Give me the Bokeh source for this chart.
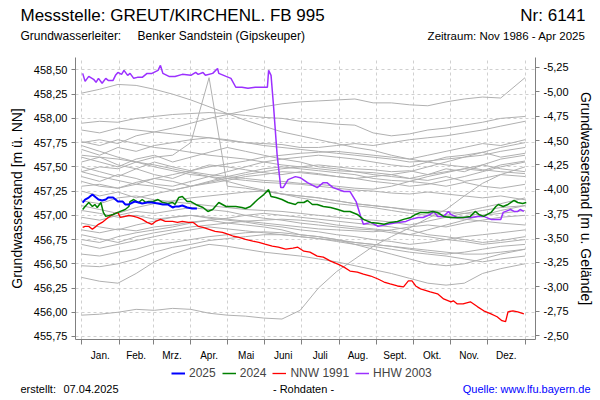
from bokeh.plotting import figure
from bokeh.models import (Range1d, LinearAxis, FixedTicker, CustomJSTickFormatter,
                          Label, Legend, LegendItem)
from bokeh.embed import file_html
from bokeh.resources import INLINE

FONT = "Liberation Sans"

# ---------------- data ----------------
month_labels = ["Jan.", "Feb.", "Mrz.", "Apr.", "Mai", "Juni", "Juli", "Aug.",
                "Sept.", "Okt.", "Nov.", "Dez."]
month_starts = [0, 31, 59, 90, 120, 151, 181, 212, 243, 273, 304, 334, 365]
left_ticks = [455.75, 456.0, 456.25, 456.5, 456.75, 457.0, 457.25, 457.5,
              457.75, 458.0, 458.25, 458.5]
right_ticks = [-5.25, -5.0, -4.75, -4.5, -4.25, -4.0, -3.75, -3.5, -3.25,
               -3.0, -2.75, -2.5]

# 2025
blue_days = [1, 3, 6, 9, 12, 14, 17, 20, 22, 26, 30, 34, 36, 39, 42, 44, 47, 50,
             54, 58, 63, 67, 71, 75, 77, 80, 83, 87, 91, 95]
blue_vals = [457.132, 457.163, 457.183, 457.214, 457.183, 457.163, 457.153, 457.163,
             457.183, 457.183, 457.142, 457.142, 457.112, 457.112, 457.132, 457.142,
             457.132, 457.122, 457.132, 457.132, 457.122, 457.112, 457.112, 457.081,
             457.091, 457.091, 457.101, 457.081, 457.071, 457.071]

# 2024
green_days = [1, 3, 6, 9, 11, 13, 16, 18, 20, 26, 30, 36, 39, 40, 43, 47, 50, 53, 55,
              59, 63, 67, 71, 75, 77, 80, 83, 87, 90, 94, 100, 104, 108, 113, 119, 123,
              127, 132, 135, 139, 145, 150, 154, 156, 160, 165, 170, 176, 178, 183, 186,
              190, 194, 199, 205, 211, 216, 221, 227, 232, 238, 244, 249, 254, 260, 265,
              271, 275, 279, 285, 289, 293, 298, 304, 309, 314, 320, 324, 327, 331, 337,
              341, 343, 347, 351, 356, 359, 363, 366]
green_vals = [457.060, 457.091, 457.132, 457.091, 457.112, 457.081, 457.132, 457.030,
              456.989, 457.009, 457.030, 457.060, 457.091, 457.142, 457.163, 457.132,
              457.163, 457.132, 457.142, 457.142, 457.163, 457.132, 457.122, 457.132,
              457.112, 457.183, 457.194, 457.142, 457.142, 457.112, 457.081, 457.040,
              457.060, 457.132, 457.091, 457.091, 457.091, 457.081, 457.071, 457.091,
              457.163, 457.214, 457.265, 457.194, 457.183, 457.163, 457.132, 457.112,
              457.132, 457.132, 457.153, 457.112, 457.112, 457.091, 457.081, 457.060,
              457.040, 457.040, 457.009, 456.958, 456.927, 456.917, 456.907, 456.927,
              456.937, 456.958, 456.978, 457.009, 457.030, 457.030, 457.040, 457.030,
              456.989, 456.978, 456.978, 456.978, 456.989, 457.040, 457.009, 456.989,
              457.030, 457.091, 457.112, 457.091, 457.112, 457.153, 457.132, 457.122,
              457.132]

# NNW 1991
red_days = [1, 3, 6, 9, 12, 14, 17, 20, 22, 26, 30, 32, 36, 39, 43, 46, 50, 54, 58,
            61, 65, 69, 75, 79, 83, 88, 92, 96, 100, 105, 110, 116, 121, 125, 129, 135,
            141, 146, 151, 157, 162, 168, 174, 178, 183, 188, 194, 199, 205, 211, 216,
            221, 227, 232, 238, 244, 249, 254, 260, 265, 269, 272, 275, 279, 287, 293,
            298, 304, 306, 309, 314, 320, 326, 331, 337, 342, 346, 349, 351, 355, 359,
            364]
red_vals = [456.876, 456.886, 456.886, 456.856, 456.886, 456.907, 456.927, 456.958,
            456.978, 457.009, 457.030, 456.978, 456.989, 456.999, 456.989, 456.978,
            456.958, 456.927, 456.907, 456.937, 456.958, 456.937, 456.937, 456.927,
            456.937, 456.927, 456.927, 456.886, 456.876, 456.856, 456.835, 456.825,
            456.804, 456.784, 456.774, 456.753, 456.733, 456.722, 456.702, 456.682,
            456.671, 456.651, 456.661, 456.671, 456.630, 456.620, 456.579, 456.569,
            456.528, 456.497, 456.466, 456.425, 456.415, 456.394, 456.374, 456.343,
            456.312, 456.292, 456.271, 456.261, 456.323, 456.323, 456.271, 456.241,
            456.210, 456.190, 456.138, 456.108, 456.118, 456.087, 456.087, 456.108,
            456.056, 456.015, 455.984, 455.954, 455.913, 455.903, 456.005, 456.015,
            456.005, 455.984]

# HHW 2003
purple_days = [1, 3, 6, 10, 12, 14, 17, 20, 22, 26, 28, 30, 33, 35, 38, 40, 43, 46, 50,
               54, 58, 63, 65, 67, 72, 77, 83, 90, 94, 96, 100, 102, 108, 112, 113, 119,
               123, 127, 132, 137, 143, 148, 153, 154, 156, 158, 161, 164, 166, 170, 176,
               180, 186, 194, 199, 202, 207, 216, 221, 226, 230, 232, 238, 244, 252, 260,
               267, 271, 277, 281, 287, 290, 293, 298, 302, 304, 309, 314, 320, 326, 331,
               337, 342, 345, 347, 353, 356, 359, 361, 364]
purple_vals = [458.464, 458.382, 458.433, 458.403, 458.372, 458.413, 458.362, 458.413,
               458.392, 458.392, 458.444, 458.474, 458.454, 458.495, 458.444, 458.464,
               458.413, 458.423, 458.423, 458.464, 458.464, 458.495, 458.546, 458.464,
               458.433, 458.433, 458.454, 458.444, 458.474, 458.454, 458.474, 458.444,
               458.464, 458.515, 458.464, 458.433, 458.413, 458.321, 458.321, 458.310,
               458.321, 458.321, 458.321, 458.495, 458.444, 458.136, 457.624, 457.286,
               457.286, 457.368, 457.399, 457.388, 457.337, 457.286, 457.337, 457.337,
               457.286, 457.245, 457.245, 457.142, 456.978, 456.907, 456.927, 456.886,
               456.907, 456.927, 456.937, 456.958, 456.978, 456.978, 457.009, 457.040,
               456.989, 456.989, 457.040, 457.009, 456.978, 456.978, 456.978, 456.989,
               456.989, 456.958, 456.958, 456.958, 457.030, 457.060, 457.040, 457.040,
               457.060, 457.040]

# other years (grey), sampled every half month
gray_days = [0, 15, 30, 45, 60, 75, 90, 105, 120, 135, 150, 165, 180, 195, 210, 225,
             240, 255, 270, 285, 300, 315, 330, 345, 365]
g01 = [458.26, 458.30, 458.35, 458.34, 458.30, 458.25, 458.19, 458.12, 458.05, 457.98,
       457.92, 457.86, 457.82, 457.78, 457.74, 457.70, 457.67, 457.62, 457.58, 457.55,
       457.52, 457.50, 457.47, 457.45, 457.43]
g02 = [457.75, 457.78, 457.74, 457.82, 457.86, 457.90, 457.95, 458.00, 458.04, 458.08,
       458.12, 458.15, 458.17, 458.18, 458.19, 458.20, 458.16, 458.16, 458.14, 458.13,
       458.17, 458.20, 458.22, 458.21, 458.42]
g03 = [457.45, 457.50, 457.48, 457.55, 457.60, 457.62, 457.75, 458.42, 457.30, 457.28,
       457.25, 457.22, 457.20, 457.18, 457.15, 457.12, 457.10, 457.08, 457.06, 457.05,
       457.04, 457.02, 457.00, 457.02, 457.05]
g04 = [457.95, 457.97, 457.96, 458.00, 458.02, 458.04, 458.05, 458.06, 458.05, 458.03,
       458.01, 458.00, 457.97, 457.96, 457.94, 457.93, 457.85, 457.82, 457.84, 457.88,
       457.90, 457.93, 457.96, 458.00, 458.02]
g05 = [457.88, 457.85, 457.90, 457.88, 457.86, 457.84, 457.82, 457.80, 457.77, 457.75,
       457.74, 457.73, 457.70, 457.70, 457.72, 457.74, 457.72, 457.75, 457.78, 457.80,
       457.82, 457.85, 457.88, 457.92, 457.97]
g06 = [457.76, 457.72, 457.78, 457.74, 457.70, 457.68, 457.65, 457.62, 457.60, 457.58,
       457.55, 457.52, 457.50, 457.48, 457.46, 457.45, 457.44, 457.42, 457.45, 457.50,
       457.55, 457.60, 457.65, 457.70, 457.75]
g07 = [457.68, 457.62, 457.70, 457.66, 457.72, 457.75, 457.78, 457.80, 457.78, 457.75,
       457.72, 457.70, 457.68, 457.66, 457.64, 457.62, 457.60, 457.58, 457.55, 457.56,
       457.58, 457.60, 457.62, 457.66, 457.70]
g08 = [457.60, 457.55, 457.50, 457.58, 457.62, 457.55, 457.60, 457.65, 457.70, 457.66,
       457.62, 457.58, 457.55, 457.50, 457.48, 457.45, 457.42, 457.40, 457.38, 457.42,
       457.48, 457.45, 457.52, 457.58, 457.62]
g09 = [457.55, 457.60, 457.52, 457.48, 457.55, 457.50, 457.46, 457.52, 457.50, 457.47,
       457.44, 457.42, 457.45, 457.43, 457.40, 457.38, 457.35, 457.33, 457.30, 457.32,
       457.36, 457.40, 457.45, 457.50, 457.55]
g10 = [457.50, 457.45, 457.40, 457.48, 457.42, 457.38, 457.45, 457.42, 457.40, 457.38,
       457.36, 457.35, 457.33, 457.32, 457.30, 457.28, 457.27, 457.30, 457.35, 457.40,
       457.44, 457.48, 457.46, 457.52, 457.56]
g11 = [457.45, 457.40, 457.36, 457.32, 457.38, 457.35, 457.30, 457.34, 457.38, 457.42,
       457.45, 457.48, 457.50, 457.52, 457.50, 457.48, 457.47, 457.45, 457.46, 457.42,
       457.45, 457.48, 457.52, 457.48, 457.45]
g12 = [457.40, 457.35, 457.42, 457.38, 457.32, 457.30, 457.35, 457.40, 457.45, 457.50,
       457.55, 457.58, 457.60, 457.62, 457.60, 457.58, 457.55, 457.52, 457.50, 457.55,
       457.60, 457.62, 457.65, 457.60, 457.64]
g13 = [457.35, 457.30, 457.28, 457.32, 457.30, 457.26, 457.30, 457.33, 457.36, 457.40,
       457.42, 457.45, 457.44, 457.42, 457.40, 457.38, 457.40, 457.42, 457.38, 457.36,
       457.40, 457.35, 457.38, 457.42, 457.40]
g14 = [457.72, 457.66, 457.60, 457.55, 457.50, 457.46, 457.42, 457.40, 457.38, 457.36,
       457.34, 457.33, 457.32, 457.30, 457.28, 457.26, 457.25, 457.23, 457.22, 457.24,
       457.22, 457.20, 457.18, 457.20, 457.16]
g15 = [457.30, 457.32, 457.28, 457.34, 457.38, 457.42, 457.46, 457.50, 457.53, 457.56,
       457.60, 457.62, 457.64, 457.65, 457.66, 457.64, 457.62, 457.60, 457.58, 457.62,
       457.66, 457.70, 457.74, 457.72, 457.78]
g16 = [457.25, 457.20, 457.24, 457.18, 457.22, 457.26, 457.30, 457.35, 457.40, 457.44,
       457.48, 457.50, 457.48, 457.46, 457.44, 457.42, 457.38, 457.36, 457.35, 457.33,
       457.30, 457.34, 457.30, 457.28, 457.32]
g17 = [457.05, 457.02, 456.98, 457.00, 456.96, 456.98, 457.00, 456.97, 456.95, 456.93,
       456.90, 456.88, 456.85, 456.83, 456.80, 456.78, 456.75, 456.73, 456.70, 456.72,
       456.75, 456.78, 456.80, 456.82, 456.85]
g18 = [456.98, 456.95, 457.00, 457.04, 457.02, 457.05, 457.08, 457.06, 457.04, 457.00,
       456.97, 456.95, 456.92, 456.90, 456.88, 456.86, 456.85, 456.82, 456.80, 456.78,
       456.75, 456.73, 456.70, 456.72, 456.75]
g19 = [456.92, 456.88, 456.85, 456.90, 456.94, 456.98, 457.00, 456.98, 456.96, 456.94,
       456.92, 456.90, 456.88, 456.86, 456.85, 456.84, 456.83, 456.85, 456.88, 456.90,
       456.88, 456.92, 456.95, 456.98, 457.00]
g20 = [456.85, 456.82, 456.86, 456.84, 456.88, 456.90, 456.93, 456.95, 456.92, 456.90,
       456.88, 456.85, 456.80, 456.78, 456.75, 456.72, 456.70, 456.68, 456.65, 456.62,
       456.60, 456.62, 456.65, 456.68, 456.70]
g21 = [456.80, 456.76, 456.72, 456.78, 456.82, 456.85, 456.88, 456.90, 456.92, 456.94,
       456.95, 456.96, 456.95, 456.93, 456.90, 456.88, 456.86, 456.84, 456.80, 456.85,
       456.90, 456.95, 457.00, 457.05, 457.10]
g22 = [456.75, 456.72, 456.78, 456.82, 456.85, 456.88, 456.92, 456.95, 456.97, 457.00,
       457.02, 457.00, 456.98, 456.96, 456.94, 456.92, 456.90, 456.88, 456.85, 456.80,
       456.78, 456.75, 456.72, 456.74, 456.78]
g23 = [456.70, 456.66, 456.70, 456.74, 456.78, 456.82, 456.85, 456.88, 456.86, 456.84,
       456.82, 456.80, 456.78, 456.76, 456.73, 456.70, 456.68, 456.65, 456.62, 456.60,
       456.58, 456.55, 456.52, 456.55, 456.58]
g24 = [456.48, 456.47, 456.50, 456.55, 456.62, 456.67, 456.70, 456.74, 456.76, 456.78,
       456.80, 456.80, 456.78, 456.76, 456.74, 456.72, 456.70, 456.68, 456.66, 456.64,
       456.62, 456.60, 456.60, 456.62, 456.65]
g25 = [456.36, 456.32, 456.30, 456.40, 456.52, 456.60, 456.66, 456.70, 456.68, 456.65,
       456.62, 456.60, 456.58, 456.55, 456.52, 456.48, 456.44, 456.40, 456.35, 456.30,
       456.28, 456.30, 456.40, 456.45, 456.50]
g26 = [455.97, 455.98, 456.00, 456.03, 456.02, 456.04, 456.03, 455.99, 455.97, 455.96,
       455.94, 455.93, 456.02, 456.25, 456.42, 456.55, 456.68, 456.78, 456.87, 456.97,
       457.06, 457.20, 457.33, 457.42, 457.50]
g27 = [457.15, 457.12, 457.18, 457.20, 457.16, 457.14, 457.12, 457.10, 457.08, 457.06,
       457.05, 457.04, 457.02, 457.00, 456.98, 456.96, 456.95, 456.93, 456.90, 456.94,
       456.98, 457.02, 457.05, 457.08, 457.10]
g28 = [457.10, 457.06, 457.02, 457.08, 457.12, 457.15, 457.18, 457.20, 457.22, 457.24,
       457.25, 457.22, 457.20, 457.18, 457.15, 457.12, 457.10, 457.08, 457.05, 457.02,
       457.00, 457.04, 457.08, 457.12, 457.18]
g29 = [457.62, 457.60, 457.58, 457.55, 457.52, 457.48, 457.44, 457.40, 457.35, 457.30,
       457.26, 457.22, 457.18, 457.15, 457.12, 457.10, 457.08, 457.05, 457.02, 457.00,
       456.98, 456.96, 456.94, 456.92, 456.90]
g30 = [456.60, 456.58, 456.62, 456.65, 456.70, 456.72, 456.75, 456.78, 456.80, 456.82,
       456.83, 456.82, 456.80, 456.78, 456.75, 456.70, 456.65, 456.60, 456.55, 456.50,
       456.48, 456.50, 456.55, 456.60, 456.65]
gray_series = [g01, g02, g03, g04, g05, g06, g07, g08, g09, g10, g11, g12, g13, g14, g15,
               g16, g17, g18, g19, g20, g21, g22, g23, g24, g25, g26, g27, g28, g29, g30]

# the page is drawn from its top-left corner: strips are 600 px wide
W = 600
HEAD_H = 57
MAIN_H = 306
FOOT_H = 37

BLUE, GREEN, RED, PURPLE = "#0000ff", "#008000", "#ff0000", "#9b30ff"


def text_strip(height):
    """A figure without axes whose data units equal pixels (y counted downward)."""
    f = figure(width=W, height=height, output_backend="svg", toolbar_location=None,
               x_range=Range1d(0, W), y_range=Range1d(height, 0),
               x_axis_location=None, y_axis_location=None, outline_line_color=None,
               min_border_left=0, min_border_right=0, min_border_top=0,
               min_border_bottom=0, title=None)
    f.xgrid.visible = False
    f.ygrid.visible = False
    return f


def txt(f, text, x, y, size, align="left", color="#000000"):
    f.add_layout(Label(x=x, y=y, text=text, text_font=FONT, text_font_size=size,
                       text_align=align, text_baseline="middle", text_color=color))


# ---------------- header ----------------
head = text_strip(HEAD_H)
txt(head, "Messstelle: GREUT/KIRCHENL. FB 995", 20, 15, "17px")
txt(head, "Nr: 6141", 585, 15, "17px", "right")
txt(head, "Grundwasserleiter:", 20, 35, "12px")
txt(head, "Benker Sandstein (Gipskeuper)", 137, 35, "12px")
txt(head, "Zeitraum: Nov 1986 - Apr 2025", 585, 35, "11.5px", "right")

# ---------------- main chart ----------------
p = figure(width=W, height=MAIN_H, output_backend="svg", toolbar_location=None,
           x_range=Range1d(-4.9, 373.6), y_range=Range1d(455.719, 458.628),
           min_border_left=75, min_border_right=65, min_border_top=0,
           min_border_bottom=22, outline_line_color=None, title=None)
p.extra_y_ranges = {"depth": Range1d(start=-2.459, end=-5.352)}

fmt = CustomJSTickFormatter(code="return tick.toFixed(2).replace('.', ',');")

ya = p.yaxis[0]
ya.ticker = FixedTicker(ticks=left_ticks)
ya.formatter = fmt
ya.axis_label = "Grundwasserstand [m ü. NN]"

ra = LinearAxis(y_range_name="depth", ticker=FixedTicker(ticks=right_ticks),
                formatter=fmt, axis_label="Grundwasserstand [m u. Gelände]")
p.add_layout(ra, "right")

for ax in (ya, ra):
    ax.axis_line_color = "#808080"
    ax.major_tick_line_color = "#808080"
    ax.major_tick_in = 0
    ax.major_tick_out = 4
    ax.minor_tick_line_color = None
    ax.major_label_standoff = 4
    ax.major_label_text_font = FONT
    ax.major_label_text_font_size = "11px"
    ax.major_label_text_color = "#000000"
    ax.axis_label_text_font = FONT
    ax.axis_label_text_font_size = "14px"
    ax.axis_label_text_font_style = "normal"
    ax.axis_label_text_color = "#000000"
    ax.axis_label_standoff = 6

mids = [(a + b) / 2 for a, b in zip(month_starts[:-1], month_starts[1:])]
xa = p.xaxis[0]
xa.ticker = FixedTicker(ticks=mids, minor_ticks=month_starts)
xa.formatter = CustomJSTickFormatter(args=dict(mids=mids, labels=month_labels), code="""
    let best = 0;
    for (let i = 0; i < mids.length; i++) {
        if (Math.abs(mids[i] - tick) < Math.abs(mids[best] - tick)) best = i;
    }
    return labels[best];
""")
xa.axis_line_color = "#808080"
xa.major_tick_line_color = None
xa.minor_tick_line_color = "#808080"
xa.minor_tick_in = 0
xa.minor_tick_out = 5
xa.major_label_standoff = 4
xa.major_label_text_font = FONT
xa.major_label_text_font_size = "10px"
xa.major_label_text_color = "#000000"

p.xgrid.ticker = FixedTicker(ticks=month_starts)
for g in (p.xgrid[0], p.ygrid[0]):
    g.grid_line_color = "#d0d0d0"
    g.grid_line_dash = "3 3"
    g.grid_line_width = 1

for vals in gray_series:
    p.line(gray_days, vals, line_color="#b0b0b0", line_width=1)

p.line(red_days, red_vals, line_color=RED, line_width=1.3)
p.line(purple_days, purple_vals, line_color=PURPLE, line_width=1.5)
p.line(green_days, green_vals, line_color=GREEN, line_width=1.5)
p.line(blue_days, blue_vals, line_color=BLUE, line_width=2)

# ---------------- footer: legend + notes ----------------
foot = text_strip(FOOT_H)
# same series again (they lie outside this strip's range, so only the legend shows them)
f_blue = foot.line(blue_days, blue_vals, line_color=BLUE, line_width=2)
f_green = foot.line(green_days, green_vals, line_color=GREEN, line_width=1.5)
f_red = foot.line(red_days, red_vals, line_color=RED, line_width=1.3)
f_purple = foot.line(purple_days, purple_vals, line_color=PURPLE, line_width=1.5)
legend = Legend(items=[LegendItem(label="2025", renderers=[f_blue]),
                       LegendItem(label="2024", renderers=[f_green]),
                       LegendItem(label="NNW 1991", renderers=[f_red]),
                       LegendItem(label="HHW 2003", renderers=[f_purple])],
                orientation="horizontal", location=(171, 20), padding=0, margin=0,
                spacing=6, glyph_width=14, glyph_height=14, label_height=14,
                label_standoff=4, label_text_font=FONT, label_text_font_size="12px",
                border_line_color=None, background_fill_alpha=0)
foot.add_layout(legend)
txt(foot, "erstellt:", 20, 25, "11px")
txt(foot, "07.04.2025", 63, 25, "11px")
txt(foot, "- Rohdaten -", 303, 25, "11px", "center")
txt(foot, "Quelle: www.lfu.bayern.de", 590, 25, "11px", "right", BLUE)

open("out.html", "w").write(file_html([head, p, foot], INLINE))
